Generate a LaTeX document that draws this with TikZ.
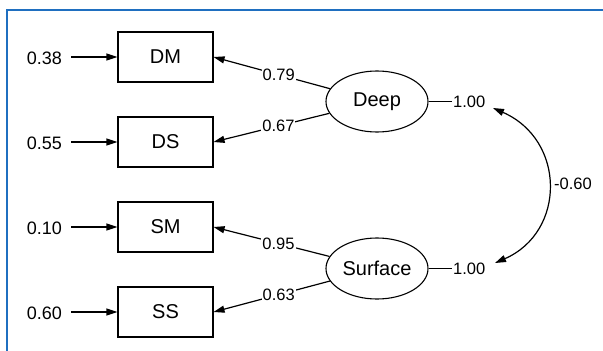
\documentclass[tikz,border=0pt]{standalone}
\usepackage{fontspec}
\setmainfont{Liberation Sans}
\usetikzlibrary{arrows.meta,shapes.geometric}
\definecolor{frameblue}{HTML}{1F6FC0}
\tikzset{
  obs/.style={draw, line width=1.1pt, minimum width=95pt, minimum height=50pt, inner sep=0pt, font=\fontsize{20}{24}\selectfont},
  lat/.style={draw, ellipse, line width=1.1pt, minimum width=102pt, minimum height=61pt, inner sep=0pt, font=\fontsize{20}{24}\selectfont},
  err/.style={font=\fontsize{18}{22}\selectfont, inner sep=1pt},
  lbl/.style={font=\fontsize{16.5}{20}\selectfont, fill=white, inner sep=1pt},
  tip/.tip={Triangle[length=11pt,width=7pt]},
  arr/.style={line width=1.2pt, -tip},
  rarr/.style={line width=1.2pt, tip-},
  con/.style={line width=1.2pt}
}
\begin{document}
\begin{tikzpicture}[x=1pt,y=-1pt]
\useasboundingbox (0,0) rectangle (603,351);
\draw[frameblue, line width=2pt] (7,351) -- (7,10) -- (603,10);
% observed
\node[obs] (DM) at (165.5,57) {DM};
\node[obs] (DS) at (165.5,142) {DS};
\node[obs] (SM) at (165.5,227) {SM};
\node[obs] (SS) at (165.5,312) {SS};
% errors
\node[err, anchor=east] (eDM) at (63,58) {0.38};
\node[err, anchor=east] (eDS) at (63,143) {0.55};
\node[err, anchor=east] (eSM) at (63,228) {0.10};
\node[err, anchor=east] (eSS) at (63,313) {0.60};
\draw[arr] (eDM.east) ++(8,-1) coordinate (aDM) -- (DM.west);
\draw[arr] (eDS.east) ++(8,-1) coordinate (aDS) -- (DS.west);
\draw[arr] (eSM.east) ++(8,-1) coordinate (aSM) -- (SM.west);
\draw[arr] (eSS.east) ++(8,-1) coordinate (aSS) -- (SS.west);
% latent
\node[lat] (Deep) at (377,101.5) {Deep};
\node[lat] (Surf) at (377,268.5) {Surface};
% loadings
\draw[rarr] (DM.east) -- node[lbl, pos=0.56] {0.79} (Deep);
\draw[rarr] (DS.east) -- node[lbl, pos=0.56] {0.67} (Deep);
\draw[rarr] (SM.east) -- node[lbl, pos=0.56] {0.95} (Surf);
\draw[rarr] (SS.east) -- node[lbl, pos=0.56] {0.63} (Surf);
% variances
\node[lbl, fill=none, anchor=west] (vD) at (452,101.5) {1.00};
\node[lbl, fill=none, anchor=west] (vS) at (452,268.5) {1.00};
\draw[con] (Deep) -- (vD);
\draw[con] (Surf) -- (vS);
% covariance
\coordinate (cA) at (493,108);
\coordinate (cB) at (495,263);
\draw[con, tip-tip] (cA) .. controls (566,140) and (566,232) .. (cB);
\node[lbl, fill=none] (cov) at (573,184) {-0.60};
\end{tikzpicture}
\end{document}
